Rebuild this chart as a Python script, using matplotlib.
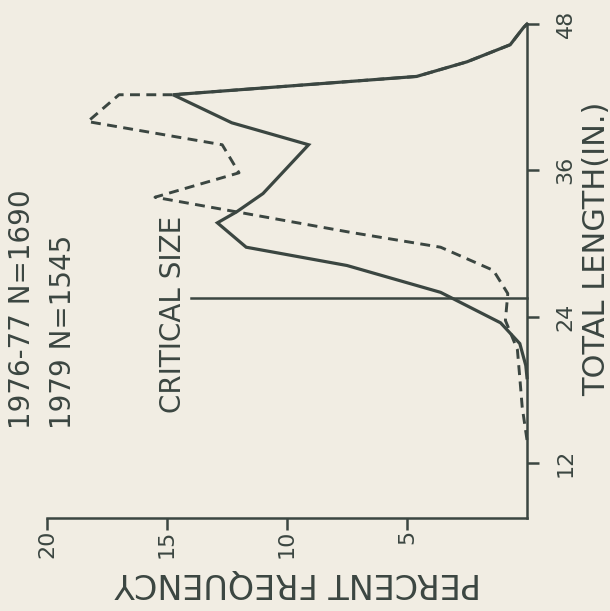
import numpy as np
import matplotlib.pyplot as plt

# length-frequency of the catch, read off the (rotated) scanned figure
# solid line: 1976-77, dashed line: 1979
len_7677 = [19.0, 20.0, 21.8, 23.5, 26.0, 28.2, 29.7, 31.7, 32.6, 34.1, 38.1, 39.9,
            42.2, 43.7, 44.9, 46.3, 47.7, 48.0]
pct_7677 = [0.0, 0.05, 0.3, 1.1, 3.6, 7.5, 11.7, 12.9, 12.1, 11.0, 9.1, 12.3,
            14.75, 4.6, 2.5, 0.7, 0.15, 0.0]
len_79 = [13.9, 16.6, 19.0, 21.3, 23.7, 25.9, 27.8, 29.7, 30.9, 33.8, 35.8, 38.1,
          40.0, 42.2, 42.2, 43.7, 44.9, 46.3, 47.7, 48.0]
pct_79 = [0.0, 0.2, 0.3, 0.4, 0.9, 0.8, 1.4, 3.6, 7.3, 15.5, 12.0, 12.7,
          18.3, 17.0, 14.75, 4.6, 2.5, 0.7, 0.15, 0.0]

critical_size = 25.5
length_ticks = [12, 24, 36, 48]
pct_ticks = [5, 10, 15, 20]

ink = '#3b4641'
paper = '#f1ede3'

fig = plt.figure(figsize=(6.10, 6.11), dpi=100, facecolor=paper)
ax = fig.add_axes([47/610, 1 - 518/611, 480/610, 494/611])
ax.set_facecolor(paper)

ax.plot(pct_7677, len_7677, color=ink, lw=2.3, clip_on=False, solid_joinstyle='miter')
ax.plot(pct_79, len_79, color=ink, lw=2.1, ls=(0, (3.4, 2.2)), clip_on=False)
ax.plot([14, 0], [critical_size, critical_size], color=ink, lw=1.8, clip_on=False)

ax.set_xlim(20, 0)
ax.set_ylim(7.5, 48)

for s in ['top', 'left']:
    ax.spines[s].set_visible(False)
for s in ['right', 'bottom']:
    ax.spines[s].set_color(ink)
    ax.spines[s].set_linewidth(1.8)

ax.yaxis.tick_right()
ax.set_yticks(length_ticks)
ax.set_yticklabels([str(v) for v in length_ticks], rotation=90, va='center')
ax.set_xticks(pct_ticks)
ax.set_xticklabels([str(v) for v in pct_ticks], rotation=90, ha='center', va='top')
ax.tick_params(axis='y', direction='out', length=8.6, width=1.8, color=ink,
               labelcolor=ink, labelsize=16, pad=12)
ax.tick_params(axis='x', direction='out', length=8.6, width=1.8, color=ink,
               labelcolor=ink, labelsize=16, pad=0)

ax.text(-2.9, 29.6, 'TOTAL LENGTH(IN.)', rotation=90, ha='center', va='center',
        fontsize=22, color=ink, clip_on=False)
ax.text(9.54, 2.2, 'PERCENT FREQUENCY', rotation=180, ha='center', va='center',
        fontsize=24, color=ink, clip_on=False)

ax.text(21.04, 14.8, '1976-77 N=1690', rotation=90, ha='center', va='bottom',
        fontsize=20, color=ink, clip_on=False)
ax.text(19.33, 14.8, '1979 N=1545', rotation=90, ha='center', va='bottom',
        fontsize=20, color=ink, clip_on=False)
ax.text(14.75, 16.1, 'CRITICAL SIZE', rotation=90, ha='center', va='bottom',
        fontsize=20, color=ink, clip_on=False)

fig.savefig('out.png', dpi=100, facecolor=paper)
